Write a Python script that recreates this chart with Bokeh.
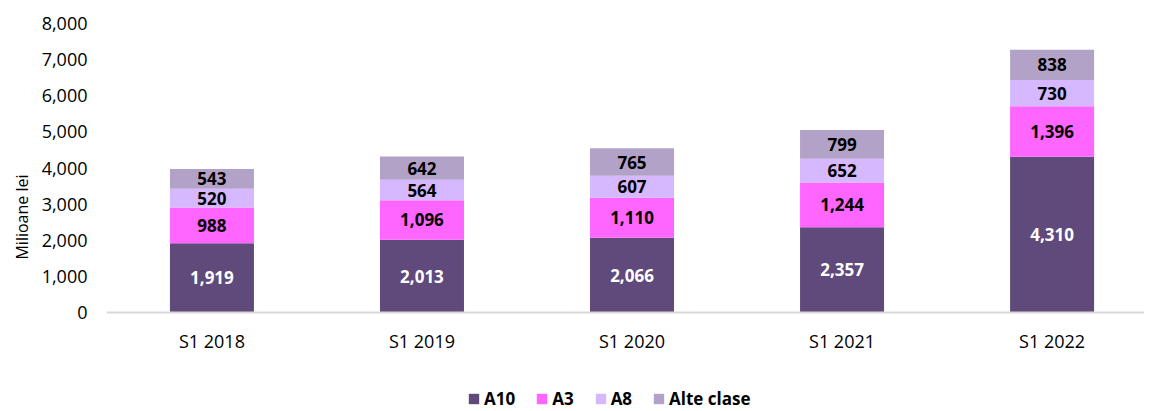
from bokeh.plotting import figure
from bokeh.models import ColumnDataSource, Range1d, FixedTicker, NumeralTickFormatter, Legend, LegendItem, LabelSet
from bokeh.core.properties import value
from bokeh.embed import file_html
from bokeh.resources import INLINE

categories = ["S1 2018", "S1 2019", "S1 2020", "S1 2021", "S1 2022"]
a10 = [1919, 2013, 2066, 2357, 4310]
a3 = [988, 1096, 1110, 1244, 1396]
a8 = [520, 564, 607, 652, 730]
alte = [543, 642, 765, 799, 838]
series_names = ["A10", "A3", "A8", "Alte clase"]
colors = ["#604A7B", "#FF66FF", "#D5B8FF", "#B3A2C7"]
label_colors = ["white", "black", "black", "black"]
FONT = "Open Sans"

xs = list(range(len(categories)))
series = [a10, a3, a8, alte]
keys = ["a10", "a3", "a8", "alte"]
data = {"x": xs}
for k, s in zip(keys, series):
    data[k] = s
source = ColumnDataSource(data)

# layout geometry (pixels)
TOP = 23          # frame top border
FIG_H = 410
PLOT_PX = 289     # pixel height of 0..8000
frame_h = FIG_H - TOP
y_min = -(frame_h - PLOT_PX) * 8000 / PLOT_PX

p = figure(width=1144, height=FIG_H, output_backend="svg", toolbar_location=None,
           x_range=Range1d(-0.502, 4.44), y_range=Range1d(y_min, 8000),
           min_border_left=106, min_border_right=0, min_border_top=TOP, min_border_bottom=0)
p.outline_line_color = None
p.xgrid.grid_line_color = None
p.ygrid.grid_line_color = None

renderers = p.vbar_stack(keys, x="x", width=0.40, color=colors, source=source, line_color=None)

# data labels
bottoms = [0] * len(xs)
for k, s, lc in zip(keys, series, label_colors):
    mids = [b + v / 2 for b, v in zip(bottoms, s)]
    txt = [f"{v:,}" for v in s]
    lsrc = ColumnDataSource(dict(x=xs, y=mids, t=txt))
    p.add_layout(LabelSet(x="x", y="y", text="t", source=lsrc, text_align="center",
                          text_baseline="middle", text_font=value(FONT), text_font_style="bold",
                          text_font_size="17px", text_color=lc))
    bottoms = [b + v for b, v in zip(bottoms, s)]

# y axis
p.yaxis.ticker = FixedTicker(ticks=list(range(0, 8001, 1000)))
p.yaxis.formatter = NumeralTickFormatter(format="0,0")
p.yaxis.axis_line_color = None
p.yaxis.major_tick_line_color = None
p.yaxis.major_tick_out = 0
p.yaxis.minor_tick_line_color = None
p.yaxis.minor_tick_out = 0
p.yaxis.major_label_text_font = FONT
p.yaxis.major_label_text_font_size = "18px"
p.yaxis.major_label_text_color = "black"
p.yaxis.major_label_standoff = 19
p.yaxis.axis_label = "Milioane lei"
p.yaxis.axis_label_text_font = FONT
p.yaxis.axis_label_text_font_size = "16px"
p.yaxis.axis_label_text_font_style = "normal"
p.yaxis.axis_label_text_color = "black"
p.yaxis.axis_label_standoff = 6

# x axis, fixed at y = 0
p.xaxis.fixed_location = 0
p.xaxis.ticker = FixedTicker(ticks=xs)
p.xaxis.major_label_overrides = {i: c for i, c in zip(xs, categories)}
p.xaxis.axis_line_color = "#D9D9D9"
p.xaxis.axis_line_width = 2
p.xaxis.major_tick_line_color = None
p.xaxis.major_tick_out = 0
p.xaxis.minor_tick_line_color = None
p.xaxis.minor_tick_out = 0
p.xaxis.major_label_text_font = FONT
p.xaxis.major_label_text_font_size = "18px"
p.xaxis.major_label_text_color = "black"
p.xaxis.major_label_standoff = 16

legend = Legend(items=[LegendItem(label=n, renderers=[r]) for n, r in zip(series_names, renderers)],
                orientation="horizontal", location=(361, 0))
legend.label_text_font = FONT
legend.label_text_font_style = "bold"
legend.label_text_font_size = "17px"
legend.label_text_color = "black"
legend.glyph_width = 13
legend.glyph_height = 13
legend.label_height = 16
legend.label_standoff = 4
legend.spacing = 20
legend.padding = 0
legend.margin = 0
legend.border_line_color = None
legend.background_fill_alpha = 0
p.add_layout(legend)

open("out.html", "w").write(file_html(p, INLINE))
